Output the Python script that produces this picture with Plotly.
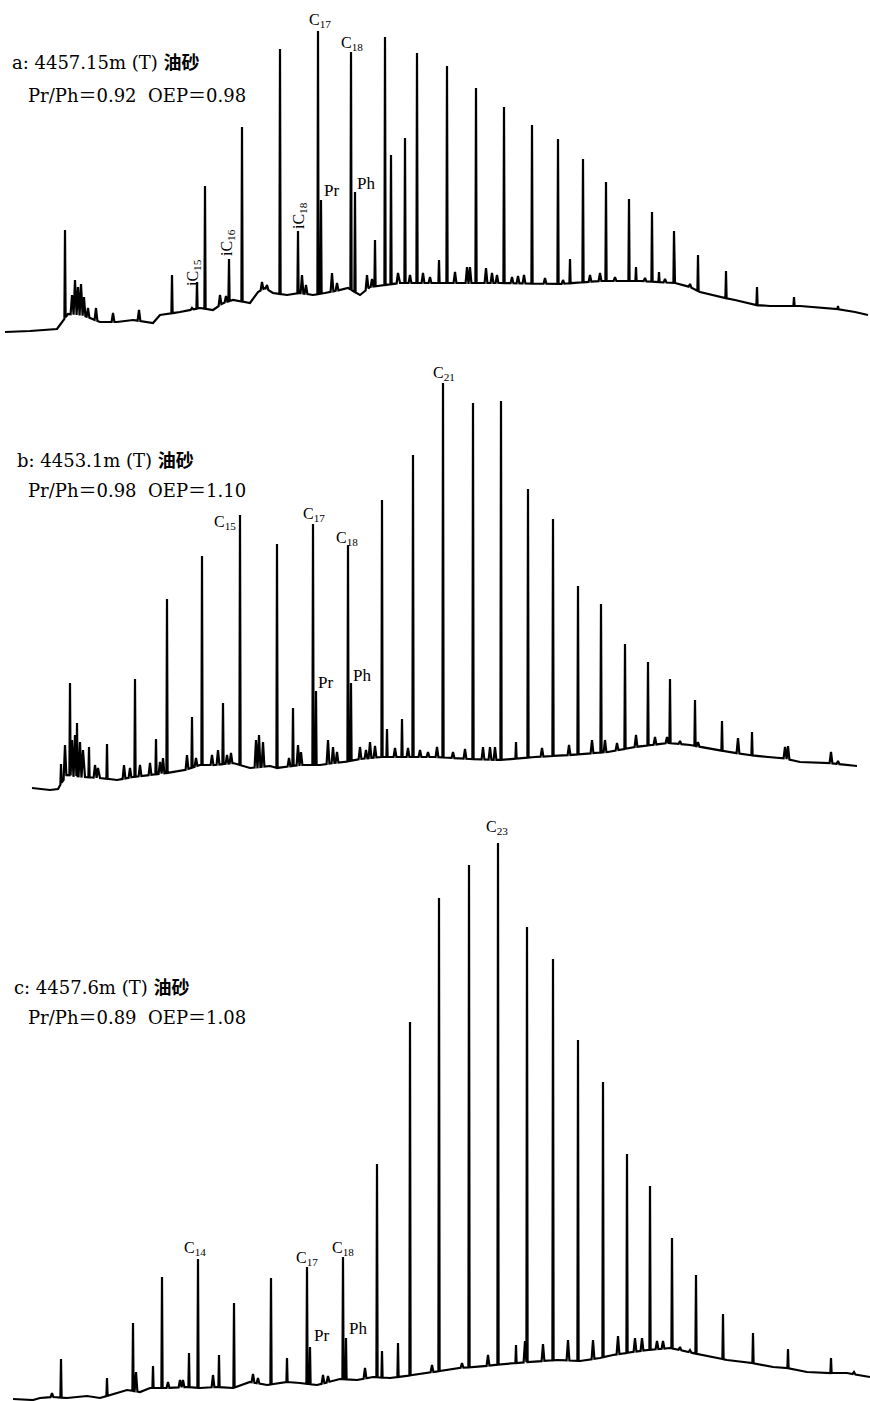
import numpy as np
import plotly.graph_objects as go

# ---------------- Panel a: 4457.15m(T) ----------------
a_base_x = [5,30,57,62,68,85,100,117,133,153,160,180,200,213,223,233,250,258,265,273,287,300,313,325,340,348,360,370,400,435,500,560,600,640,675,690,700,720,735,755,770,800,830,855,868]
a_base_v = [8,9,11,18,26,24,18,18,20,17,25,28,32,30,37,40,37,48,52,47,45,47,45,47,50,52,45,53,57,57,57,56,59,59,57,53,48,43,40,35,34,34,32,28,25]
a_peak_x = [65,172,197,205,229,242,280,298,318,321,351,355,375,385,391,405,417,439,447,476,504,532,558,570,583,606,629,636,652,659,674,698,726,757,794,838]
a_peak_v = [110,65,58,154,81,213,291,109,309,140,288,148,100,303,185,202,287,80,274,252,233,215,201,81,181,158,141,73,128,68,109,85,69,53,43,34]
a_minor_x = [72,75,78,81,84,88,96,113,139,192,220,226,262,267,302,306,332,337,367,372,398,410,423,430,455,467,470,486,492,497,512,518,524,545,563,590,600,615,645,665,690]
a_minor_v = [45,60,53,56,43,32,32,27,30,32,45,44,58,55,65,55,67,57,65,61,67,65,67,63,68,73,73,72,67,65,63,64,65,62,60,65,67,63,62,61,56]

# ---------------- Panel b: 4453.1m(T) ----------------
b_base_x = [32,50,58,62,67,85,100,117,133,150,167,185,200,215,233,250,270,277,300,320,333,345,360,380,400,435,470,500,535,570,608,635,668,690,718,748,768,782,800,828,857]
b_base_v = [12,10,11,18,25,23,22,20,23,25,27,30,35,35,37,32,34,32,35,35,37,38,41,43,43,43,41,40,43,45,48,53,57,55,50,45,43,42,38,37,34]
b_peak_x = [61,70,77,89,107,135,156,167,192,202,223,240,277,293,313,316,348,351,382,387,402,413,443,473,501,516,528,553,578,601,625,648,670,695,722,752]
b_peak_v = [36,117,77,53,56,121,61,201,83,244,97,285,256,92,276,109,255,117,300,71,81,345,417,397,399,58,311,281,214,196,156,138,121,100,79,68]
b_minor_x = [65,72,75,80,83,95,98,124,130,140,150,160,163,187,196,212,218,227,231,256,259,263,289,298,301,328,333,337,360,366,370,375,395,408,420,428,437,453,465,483,490,495,542,569,592,605,617,636,655,667,680,698,738,785,788,831,838]
b_minor_v = [55,60,65,58,50,35,32,35,32,35,37,38,42,45,42,45,50,45,47,60,65,58,42,55,48,60,53,48,53,50,58,54,52,52,50,48,53,48,51,53,53,53,52,55,60,60,57,65,63,63,59,58,62,53,54,48,39]

# ---------------- Panel c: 4457.6m(T) ----------------
c_base_x = [13,33,40,53,67,87,100,117,127,140,150,167,187,200,217,233,250,267,287,300,317,340,357,373,390,413,440,457,477,503,530,557,580,600,613,633,647,670,680,697,713,727,747,773,787,807,827,847,870]
c_base_v = [2,1,3,4,3,5,3,8,11,9,13,13,14,13,14,13,19,16,19,18,16,22,21,24,23,26,30,33,34,37,39,41,40,43,46,49,51,53,51,47,44,41,39,34,33,29,28,28,24]
c_peak_x = [61,107,133,153,162,189,198,219,234,271,287,307,310,343,346,377,382,398,410,439,469,498,516,527,553,578,603,627,650,672,696,723,753,788,831]
c_peak_v = [42,23,78,35,124,48,142,46,98,123,43,134,54,144,63,237,50,58,379,503,536,558,56,474,442,361,319,247,215,163,126,87,68,52,43]
c_minor_x = [52,136,168,180,183,213,253,258,323,328,365,432,462,488,525,543,568,593,618,635,642,657,663,680,690,854]
c_minor_v = [8,29,19,21,21,26,27,23,26,25,33,36,38,46,60,57,61,61,65,63,63,60,60,54,51,29]

# panel headers
a_title = ["a: 4457.15m (T) <b>油砂</b>", "Pr/Ph＝0.92  OEP＝0.98"]
b_title = ["b: 4453.1m (T) <b>油砂</b>", "Pr/Ph＝0.98  OEP＝1.10"]
c_title = ["c: 4457.6m (T) <b>油砂</b>", "Pr/Ph＝0.89  OEP＝1.08"]


def trace_xy(bx, bv, px, pv, mx, mv, w_main=0.6, w_minor=1.4):
    bx = np.asarray(bx, float); bv = np.asarray(bv, float)
    peaks = [(x, v, w_main) for x, v in zip(px, pv)] + [(x, v, w_minor) for x, v in zip(mx, mv)]
    xs = set(bx.tolist())
    for x, v, w in peaks:
        xs.update([x - w, x, x + w])
    xs = np.array(sorted(xs))
    base = np.interp(xs, bx, bv)
    add = np.zeros_like(xs)
    for x, v, w in peaks:
        h = v - np.interp(x, bx, bv)
        tri = h * np.clip(1 - np.abs(xs - x) / w, 0, None)
        add = np.maximum(add, tri)
    return xs, base + add


fig = go.Figure()
panels = [
    ("x", "y", a_base_x, a_base_v, a_peak_x, a_peak_v, a_minor_x, a_minor_v),
    ("x2", "y2", b_base_x, b_base_v, b_peak_x, b_peak_v, b_minor_x, b_minor_v),
    ("x3", "y3", c_base_x, c_base_v, c_peak_x, c_peak_v, c_minor_x, c_minor_v),
]
for xa, ya, bx, bv, px, pv, mx, mv in panels:
    xs, ys = trace_xy(bx, bv, px, pv, mx, mv)
    fig.add_trace(go.Scatter(x=xs, y=ys, mode="lines", xaxis=xa, yaxis=ya,
                             line=dict(color="black", width=2.2), hoverinfo="skip",
                             showlegend=False, cliponaxis=False))

H = 1401.0
ax_common = dict(visible=False, showgrid=False, zeroline=False, fixedrange=True)
fig.update_layout(
    width=870, height=1401, margin=dict(l=0, r=0, t=0, b=0),
    paper_bgcolor="white", plot_bgcolor="white", showlegend=False,
    xaxis=dict(range=[0, 870], domain=[0, 1], anchor="y", **ax_common),
    xaxis2=dict(range=[0, 870], domain=[0, 1], anchor="y2", **ax_common),
    xaxis3=dict(range=[0, 870], domain=[0, 1], anchor="y3", **ax_common),
    yaxis=dict(range=[0, 340], domain=[(H - 340) / H, 1], anchor="x", **ax_common),
    yaxis2=dict(range=[0, 460], domain=[(H - 800) / H, (H - 340) / H], anchor="x2", **ax_common),
    yaxis3=dict(range=[0, 601], domain=[0, (H - 800) / H], anchor="x3", **ax_common),
)

serif = "DejaVu Serif, Noto Sans CJK SC"
lab = "Liberation Serif, DejaVu Serif"
ann = []

def head(xr, yr, lines, x0, y0, x1, y1):
    ann.append(dict(xref=xr, yref=yr, x=x0, y=y0, text=lines[0], showarrow=False,
                    xanchor="left", yanchor="middle", font=dict(family=serif, size=18, color="black")))
    ann.append(dict(xref=xr, yref=yr, x=x1, y=y1, text=lines[1], showarrow=False,
                    xanchor="left", yanchor="middle", font=dict(family=serif, size=18, color="black")))

def pl(xr, yr, x, y, t, size=16, angle=0, anchor="center"):
    ann.append(dict(xref=xr, yref=yr, x=x, y=y, text=t, showarrow=False, textangle=angle,
                    xanchor=anchor, yanchor="middle", font=dict(family=lab, size=size, color="black")))

head("x", "y", a_title, 10, 278, 26, 245)
pl("x", "y", 320, 320, "C<sub>17</sub>")
pl("x", "y", 352, 297, "C<sub>18</sub>")
pl("x", "y", 331, 150, "Pr", 17)
pl("x", "y", 366, 157, "Ph", 17)
pl("x", "y", 299, 124, "iC<sub>18</sub>", 16, -90)
pl("x", "y", 227, 97, "iC<sub>16</sub>", 16, -90)
pl("x", "y", 193, 67, "iC<sub>15</sub>", 16, -90)

head("x2", "y2", b_title, 15, 340, 26, 310)
pl("x2", "y2", 225, 278, "C<sub>15</sub>")
pl("x2", "y2", 314, 286, "C<sub>17</sub>")
pl("x2", "y2", 347, 262, "C<sub>18</sub>")
pl("x2", "y2", 325, 118, "Pr", 17)
pl("x2", "y2", 362, 125, "Ph", 17)
pl("x2", "y2", 444, 427, "C<sub>21</sub>")

head("x3", "y3", c_title, 12, 413, 26, 383)
pl("x3", "y3", 195, 153, "C<sub>14</sub>")
pl("x3", "y3", 307, 143, "C<sub>17</sub>")
pl("x3", "y3", 343, 153, "C<sub>18</sub>")
pl("x3", "y3", 321, 66, "Pr", 17)
pl("x3", "y3", 358, 73, "Ph", 17)
pl("x3", "y3", 497, 573, "C<sub>23</sub>")

fig.update_layout(annotations=ann)
fig.write_html("out.html", config={"displayModeBar": False, "staticPlot": True},
               post_script="document.body.style.margin='0px';document.body.style.padding='0px';")
